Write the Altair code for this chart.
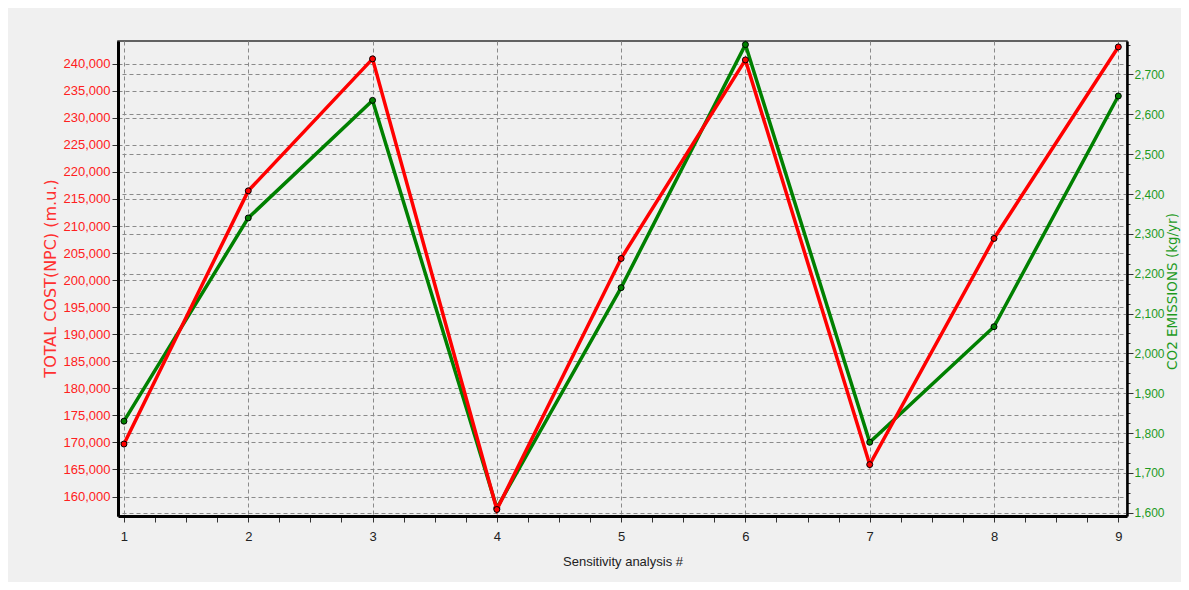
import altair as alt
import pandas as pd

# ---- data ----
runs = [1, 2, 3, 4, 5, 6, 7, 8, 9]
total_cost = [169700, 216500, 240900, 157600, 204000, 240700, 165900, 207700, 243100]
co2_emissions = [1830, 2340, 2635, 1612, 2165, 2775, 1777, 2067, 2646]

x_tick_values = [1 + 0.25 * i for i in range(33)]
cost_tick_values = list(range(160000, 240001, 5000))
co2_tick_values = list(range(1600, 2776, 25))

df = pd.DataFrame({"run": runs, "cost": total_cost, "co2": co2_emissions})

GRID = "#8a8a8a"
RED = "#ff0000"
GREEN = "#008000"
FONT = "Liberation Sans"

x_enc = alt.X(
    "run:Q",
    title="Sensitivity analysis #",
    scale=alt.Scale(domain=[0.952, 9.07], nice=False, zero=False),
    axis=alt.Axis(
        values=x_tick_values,
        labelExpr="datum.value % 1 === 0 ? format(datum.value, 'd') : ''",
        labelOverlap=False,
        grid=True,
        gridOpacity={"condition": {"test": "datum.value % 1 === 0", "value": 1}, "value": 0},
        gridColor=GRID,
        gridDash=[4, 3],
        gridWidth=1,
        tickSize=6,
        tickColor="#333333",
        domainColor="#000000",
        domainWidth=3,
        labelFont=FONT,
        labelFontSize=13,
        labelColor="#222222",
        labelPadding=8,
        titleFont=FONT,
        titleFontSize=13,
        titleFontWeight="normal",
        titleColor="#222222",
        titlePadding=12,
    ),
)

cost_scale = alt.Scale(domain=[156400, 244200], nice=False, zero=False)
co2_scale = alt.Scale(domain=[1592, 2784], nice=False, zero=False)

cost_axis = alt.Axis(
    orient="left",
    values=cost_tick_values,
    format=",d",
    labelOverlap=False,
    labelBound=False,
    grid=True,
    gridColor=GRID,
    gridDash=[4, 3],
    gridWidth=1,
    tickSize=6,
    tickColor="#333333",
    domainColor="#000000",
    domainWidth=3,
    labelFont=FONT,
    labelFontSize=13,
    labelColor="#ff2020",
    labelPadding=2,
    titleFont="DejaVu Sans",
    titleFontSize=16,
    titleFontWeight="normal",
    titleColor="#ff3030",
    titleAngle=270,
    titleAlign="center",
    titleBaseline="middle",
    titleX=-68,
    titleY=237,
)

co2_axis = alt.Axis(
    orient="right",
    values=co2_tick_values,
    labelExpr="datum.value % 100 === 0 ? format(datum.value, ',d') : ''",
    labelOverlap=False,
    grid=True,
    gridOpacity={"condition": {"test": "datum.value % 100 === 0", "value": 1}, "value": 0},
    gridColor=GRID,
    gridDash=[4, 3],
    gridWidth=1,
    tickSize={"condition": {"test": "datum.value % 100 === 0", "value": 6}, "value": 3},
    tickColor="#333333",
    domainColor="#000000",
    domainWidth=2.5,
    labelFont=FONT,
    labelFontSize=12,
    labelColor="#1e9a1e",
    labelPadding=1,
    titleFont="DejaVu Sans",
    titleFontSize=13.5,
    titleFontWeight="normal",
    titleColor="#1e9a1e",
    titleAngle=270,
    titleAlign="center",
    titleBaseline="middle",
    titleX=45,
    titleY=250,
)

base = alt.Chart(df).encode(x=x_enc)

green_line = base.mark_line(color=GREEN, strokeWidth=3.5).encode(
    y=alt.Y("co2:Q", title="CO2 EMISSIONS (kg/yr)", scale=co2_scale, axis=co2_axis)
)
green_pts = base.mark_circle(color=GREEN, size=36, opacity=1, stroke="#000000", strokeWidth=1).encode(
    y=alt.Y("co2:Q", title="CO2 EMISSIONS (kg/yr)", scale=co2_scale, axis=co2_axis)
)
red_line = base.mark_line(color=RED, strokeWidth=3.5).encode(
    y=alt.Y("cost:Q", title="TOTAL COST(NPC) (m.u.)", scale=cost_scale, axis=cost_axis)
)
red_pts = base.mark_circle(color=RED, size=36, opacity=1, stroke="#000000", strokeWidth=1).encode(
    y=alt.Y("cost:Q", title="TOTAL COST(NPC) (m.u.)", scale=cost_scale, axis=cost_axis)
)

green = alt.layer(green_line, green_pts)
red = alt.layer(red_line, red_pts)

chart = (
    alt.layer(green, red)
    .resolve_scale(y="independent")
    .properties(
        width=1009,
        height=475,
        autosize=alt.AutoSizeParams(type="none"),
        padding={"left": 110, "top": 33, "right": 54, "bottom": 66},
        background="#f0f0f0",
    )
    .configure_view(stroke="#333333", strokeWidth=1.5)
)

chart.save("out.html", embed_options={"renderer": "svg", "actions": False})
